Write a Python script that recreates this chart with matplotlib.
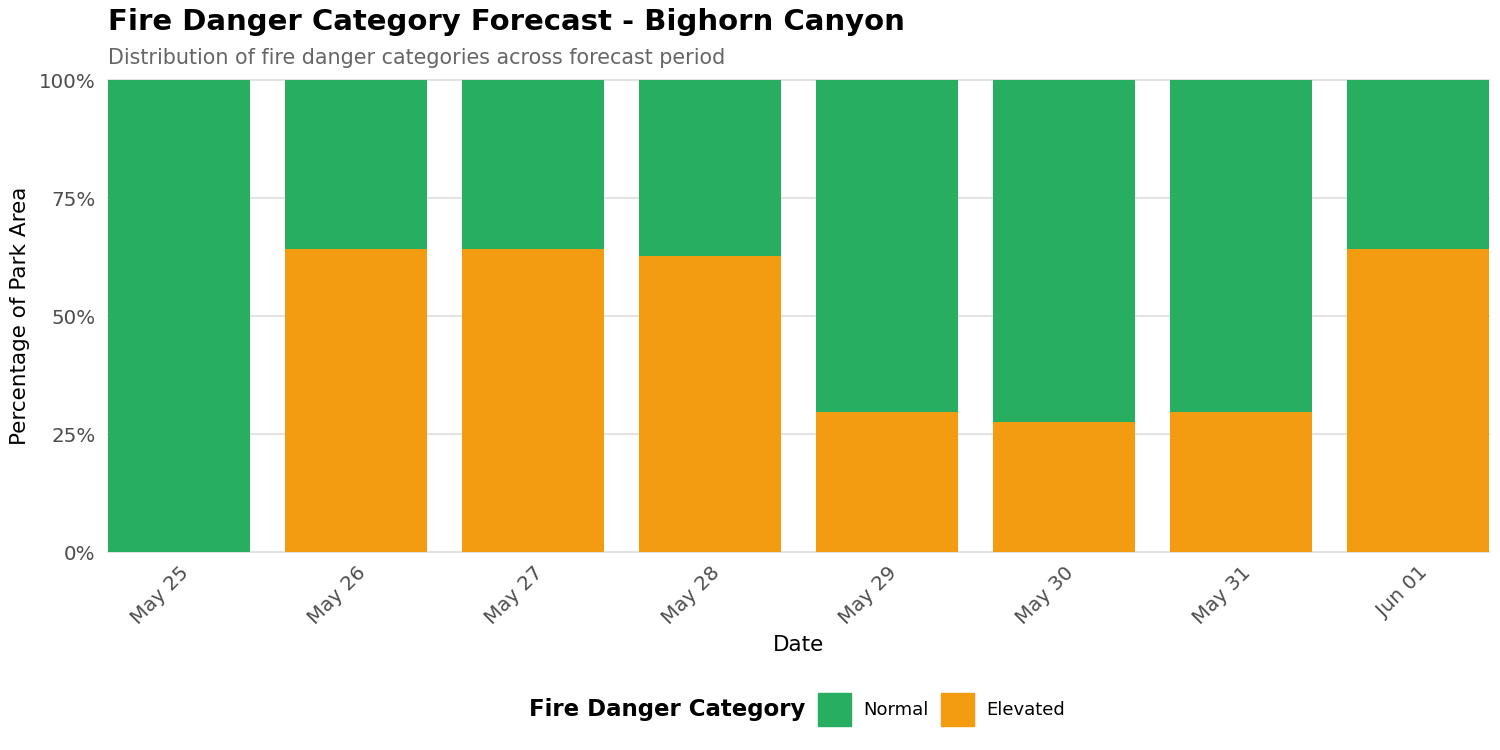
import numpy as np
import matplotlib
matplotlib.use("Agg")
import matplotlib.pyplot as plt
from matplotlib.patches import Patch

# forecast dates and share of park area per category (percent)
dates = ["May 25", "May 26", "May 27", "May 28", "May 29", "May 30", "May 31", "Jun 01"]
elevated = [0.0, 64.3, 64.3, 62.7, 29.7, 27.6, 29.7, 64.3]
normal = [100.0 - v for v in elevated]

green = "#27AE60"
orange = "#F39C12"

fig = plt.figure(figsize=(15, 7.5), dpi=100)
ax = fig.add_axes([0.072, 0.264, 0.9207, 0.6293])

x = np.arange(len(dates))
ax.bar(x, elevated, width=0.8, color=orange, zorder=2)
ax.bar(x, normal, width=0.8, bottom=elevated, color=green, zorder=2)

ax.set_xlim(-0.4, len(dates) - 0.6)
ax.set_ylim(0, 100)
ax.set_yticks([0, 25, 50, 75, 100])
ax.set_yticklabels(["0%", "25%", "50%", "75%", "100%"])
ax.set_xticks(x)
ax.set_xticklabels(dates, rotation=45, ha="right", rotation_mode="anchor")
ax.tick_params(axis="both", length=0, labelsize=14.3, labelcolor="#4d4d4d")
ax.tick_params(axis="x", pad=8)
ax.tick_params(axis="y", pad=9)

for v in [0, 25, 50, 75, 100]:
    ax.axhline(v, color="#e3e3e3", lw=1.5, zorder=1, clip_on=False)
for s in ax.spines.values():
    s.set_visible(False)

ax.set_xlabel("Date", fontsize=15.5, labelpad=5)
ax.set_ylabel("Percentage of Park Area", fontsize=15.5, labelpad=6)

fig.text(0.072, 0.971, "Fire Danger Category Forecast - Bighorn Canyon",
         fontsize=21, fontweight="bold", va="center", ha="left")
fig.text(0.072, 0.922, "Distribution of fire danger categories across forecast period",
         fontsize=14.9, color="#666666", va="center", ha="left")

# legend at the bottom with title on the left
fig.text(0.5367, 0.054, "Fire Danger Category", fontsize=16.5, fontweight="bold",
         ha="right", va="center")
handles = [Patch(color=green, label="Normal"), Patch(color=orange, label="Elevated")]
fig.legend(handles=handles, loc="center left", bbox_to_anchor=(0.5453, 0.054),
           ncol=2, frameon=False, fontsize=13, handlelength=1.83,
           handleheight=2.44, handletextpad=0.66, columnspacing=0.72,
           borderpad=0, borderaxespad=0)

fig.savefig("out.png", dpi=100)
